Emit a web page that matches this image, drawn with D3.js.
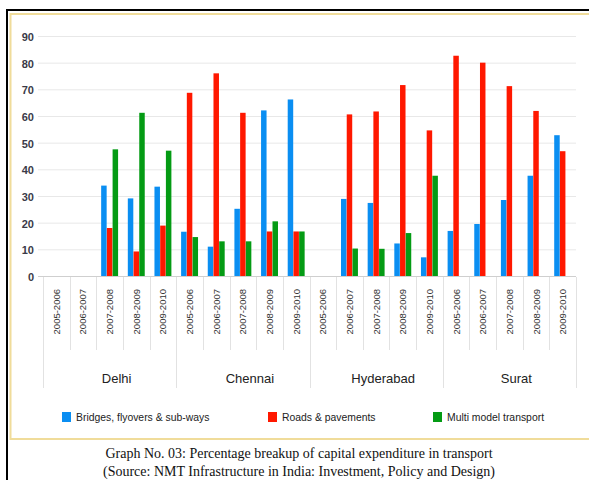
<!DOCTYPE html>
<html lang="en">
<head>
<meta charset="UTF-8">
<title>Capital expenditure in transport</title>
<style>
  body { margin: 0; background: #fff; }
  svg { display: block; font-family: "Liberation Sans", Arial, sans-serif; }
</style>
</head>
<body>
<svg width="589" height="480"></svg>
<script src="https://d3js.org/d3.v7.min.js"></script>
<script>

  var cities = ['Delhi', 'Chennai', 'Hyderabad', 'Surat'];
  var years = ['2005-2006', '2006-2007', '2007-2008', '2008-2009', '2009-2010'];
  var series = ['Bridges, flyovers & sub-ways', 'Roads & pavements', 'Multi model transport'];
  var colors = ['#0a8ef2', '#ff1800', '#049b14'];
  var yTicks = [0, 10, 20, 30, 40, 50, 60, 70, 80, 90];

  // one value per city/year, cities in order, null = no bar
  var bridges = [null, null, 33.9, 29.1, 33.5,  16.6, 11, 25.2, 62.1, 66.2,  null, 28.9, 27.4, 12.2, 7,  16.9, 19.5, 28.5, 37.6, 52.8];
  var roads   = [null, null, 18, 9.2, 18.9,  68.7, 76, 61.2, 16.7, 16.7,  null, 60.6, 61.7, 71.6, 54.6,  82.6, 80, 71.2, 61.9, 46.8];
  var multi   = [null, null, 47.5, 61.2, 47,  14.6, 13, 13, 20.5, 16.7,  null, 10.3, 10.2, 16.1, 37.6,  null, null, null, null, null];
  var values = [bridges, roads, multi];

  var svg = d3.select('svg');

  // frame
  svg.append('rect').attr('x', 7).attr('y', 10).attr('width', 600).attr('height', 480)
      .attr('fill', 'none').attr('stroke', '#000').attr('stroke-width', 2);
  svg.append('rect').attr('x', 10.5).attr('y', 14).attr('width', 600).attr('height', 425)
      .attr('fill', '#fff').attr('stroke', '#f0dc9a').attr('stroke-width', 2);

  var cats = [];
  cities.forEach(function(c) { years.forEach(function(y) { cats.push(c + '|' + y); }); });

  var x = d3.scaleBand().domain(cats).range([43, 576]);
  var sub = d3.scaleBand().domain(d3.range(series.length)).range([0, x.bandwidth()])
      .paddingInner(0.04).paddingOuter(0.85);
  var y = d3.scaleLinear().domain([0, 90]).range([276, 36]);

  // grid + y labels
  svg.append('g').selectAll('line').data(yTicks).enter().append('line')
      .attr('x1', 38).attr('x2', 576)
      .attr('y1', function(d) { return y(d) + 0.5; }).attr('y2', function(d) { return y(d) + 0.5; })
      .attr('stroke', function(d) { return d === 0 ? '#cfcfcf' : '#e8e8e8'; });

  svg.append('g').selectAll('text').data(yTicks).enter().append('text')
      .attr('x', 34).attr('y', function(d) { return y(d) + 5; })
      .attr('text-anchor', 'end').attr('font-size', 11).attr('font-weight', 'bold')
      .attr('fill', '#3a3a48').text(function(d) { return d; });

  // bars
  series.forEach(function(s, i) {
    svg.append('g').selectAll('rect')
        .data(cats.map(function(c, k) { return {c: c, v: values[i][k]}; }).filter(function(d) { return d.v != null; }))
        .enter().append('rect')
        .attr('x', function(d) { return x(d.c) + sub(i); })
        .attr('y', function(d) { return y(d.v); })
        .attr('width', sub.bandwidth())
        .attr('height', function(d) { return y(0) - y(d.v); })
        .attr('fill', colors[i]);
  });

  // category axis
  var edges = cats.map(function(c) { return x(c); }).concat([x.range()[1]]);
  svg.append('g').selectAll('line').data(edges).enter().append('line')
      .attr('x1', function(d) { return Math.round(d) + 0.5; }).attr('x2', function(d) { return Math.round(d) + 0.5; })
      .attr('y1', 277)
      .attr('y2', function(d, i) { return i % years.length === 0 ? 388 : 350; })
      .attr('stroke', '#e2e2e2');

  svg.append('g').selectAll('text').data(cats).enter().append('text')
      .attr('transform', function(d) { return 'translate(' + (x(d) + x.bandwidth() / 2 + 3.5) + ',289) rotate(-90)'; })
      .attr('text-anchor', 'end').attr('font-size', 9.5).attr('fill', '#333')
      .text(function(d) { return d.split('|')[1]; });

  svg.append('g').selectAll('text').data(cities).enter().append('text')
      .attr('x', function(c) { return x(c + '|' + years[0]) + x.bandwidth() * years.length / 2 + 7; })
      .attr('y', 383).attr('text-anchor', 'middle').attr('font-size', 13).attr('fill', '#222')
      .text(function(c) { return c; });

  // legend
  var legendX = [62, 268, 433];
  var legend = svg.append('g').selectAll('g').data(series).enter().append('g')
      .attr('transform', function(d, i) { return 'translate(' + legendX[i] + ',412)'; });
  legend.append('rect').attr('width', 9).attr('height', 10).attr('fill', function(d, i) { return colors[i]; });
  legend.append('text').attr('x', 14).attr('y', 8.5).attr('font-size', 10.4).attr('fill', '#222')
      .text(function(d) { return d; });

  // caption
  var caption = svg.append('g').attr('font-family', '"Liberation Serif", "Times New Roman", serif')
      .attr('font-size', 14).attr('fill', '#111').attr('text-anchor', 'middle');
  caption.append('text').attr('x', 299).attr('y', 458)
      .text('Graph No. 03: Percentage breakup of capital expenditure in transport');
  caption.append('text').attr('x', 299).attr('y', 476)
      .text('(Source: NMT Infrastructure in India: Investment, Policy and Design)');

</script>
</body>
</html>
